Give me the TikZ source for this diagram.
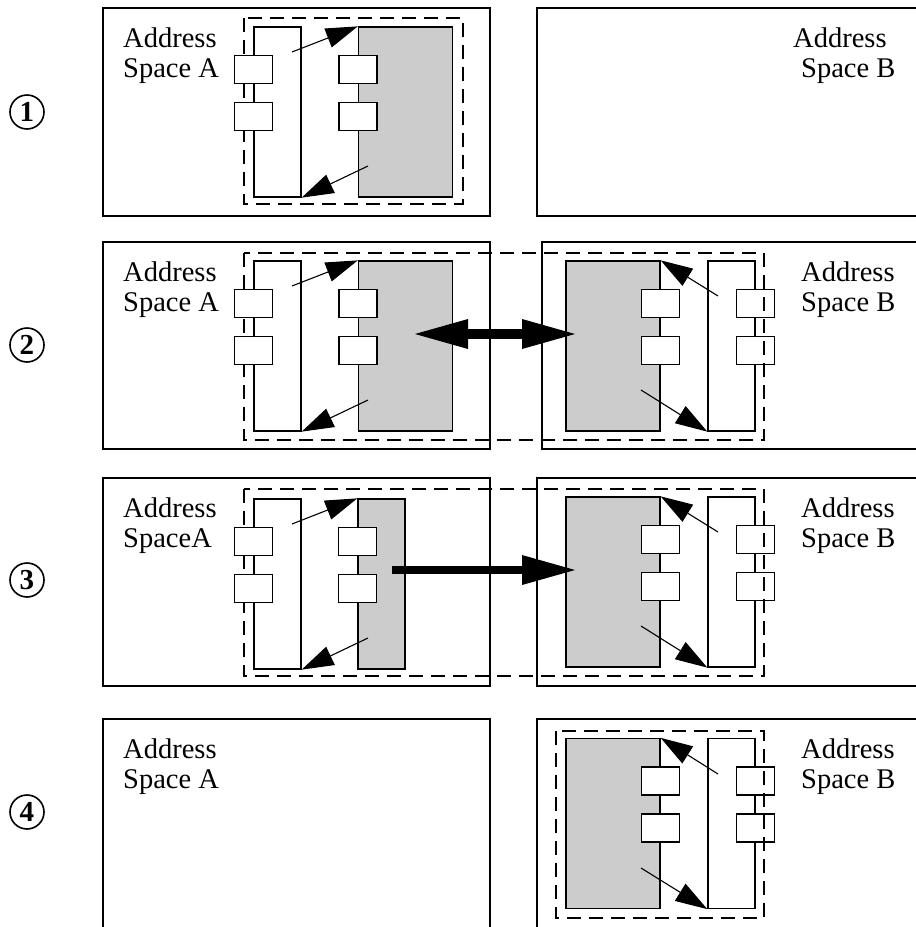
\documentclass[tikz,border=0pt]{standalone}
\usepackage{fontspec}
\setmainfont{Liberation Serif}
\usetikzlibrary{arrows.meta, positioning}

\begin{document}
\begin{tikzpicture}[x=1pt, y=-1pt,
		space/.style={draw, line width=1.3pt},
		unitbox/.style={draw, line width=1.3pt, dash pattern=on 14pt off 8pt},
		client/.style={draw, line width=1.3pt, fill=white, minimum width=47pt, minimum height=170pt, inner sep=0},
		object/.style={draw, line width=1.3pt, fill=gray!40, minimum width=94pt, minimum height=170pt, inner sep=0},
		port/.style={draw, line width=1.3pt, fill=white, minimum width=38pt, minimum height=28pt, inner sep=0},
		spacetext/.style={anchor=north west, align=left, inner sep=0, font=\fontsize{28.5}{30}\selectfont},
		num/.style={draw, circle, line width=1.6pt, minimum size=34pt, inner sep=0, font=\fontsize{29}{29}\selectfont\bfseries},
		ref/.style={-{Triangle[length=32pt, width=20pt]}, line width=1.1pt},
		transfer/.style={line width=10pt, -{Triangle[length=53pt, width=30pt, line width=0pt]}}
		]
		\useasboundingbox (0,0) rectangle (916,927);
		\clip (0,0) rectangle (916,927);
		
		% Step 1
		\node[num] (n1) at (27,112) {1};
		\draw[space] (103,8) rectangle (490,216);
		\draw[space] (537,8) rectangle (925,216);
		\node[spacetext] (tA1) at (123,28) {Address\\Space A};
		\node[spacetext] (tB1) at (793,28) {Address\\\hspace*{8pt}Space B};
		\draw[unitbox] (244,18) rectangle (463,204);
		\node[client] (cA1) at (277.5,112) {};
		\node[object] (oA1) at (405.5,112) {};
		\node[port] at ([yshift=-43pt]cA1.north west) {};
		\node[port] at ([yshift=-90pt]cA1.north west) {};
		\node[port] at ([yshift=-43pt]oA1.north west) {};
		\node[port] at ([yshift=-90pt]oA1.north west) {};
		\coordinate (sA1) at (292,52);
		\coordinate (rA1) at (368,166);
		\draw[ref] (sA1) -- (oA1.north west);
		\draw[ref] (rA1) -- (cA1.south east);
		
		% Step 2
		\node[num] (n2) at (27,345) {2};
		\draw[space] (103,242) rectangle (490,449);
		\draw[space] (542,242) rectangle (925,449);
		\node[spacetext] (tA2) at (123,262) {Address\\Space A};
		\node[spacetext] (tB2) at (801,262) {Address\\Space B};
		\node[client] (cA2) at (277.5,346) {};
		\node[object] (oA2) at (405.5,346) {};
		\node[object] (oB2) at (613,346) {};
		\node[client] (cB2) at (731.5,346) {};
		\node[port] at ([yshift=-43pt]oB2.north east) {};
		\node[port] at ([yshift=-90pt]oB2.north east) {};
		\node[port] at ([yshift=-43pt]cB2.north east) {};
		\node[port] at ([yshift=-90pt]cB2.north east) {};
		\draw[unitbox] (244,253) rectangle (764,440);
		\node[port] at ([yshift=-43pt]cA2.north west) {};
		\node[port] at ([yshift=-90pt]cA2.north west) {};
		\node[port] at ([yshift=-43pt]oA2.north west) {};
		\node[port] at ([yshift=-90pt]oA2.north west) {};
		\coordinate (sA2) at (292,286);
		\coordinate (rA2) at (368,400);
		\coordinate (sB2) at (718,296);
		\coordinate (rB2) at (641,390);
		\draw[ref] (sA2) -- (oA2.north west);
		\draw[ref] (rA2) -- (cA2.south east);
		\draw[ref] (sB2) -- (oB2.north east);
		\draw[ref] (rB2) -- (cB2.south west);
		\coordinate (xA2) at (415,334);
		\coordinate (xB2) at (575,334);
		\draw[transfer, {Triangle[length=53pt, width=30pt, line width=0pt]}-{Triangle[length=53pt, width=30pt, line width=0pt]}] (xA2) -- (xB2);
		
		% Step 3
		\node[num] (n3) at (27,580) {3};
		\draw[space] (103,478) rectangle (490,686);
		\draw[space] (537,478) rectangle (925,686);
		\node[spacetext] (tA3) at (123,498) {Address\\SpaceA};
		\node[spacetext] (tB3) at (801,498) {Address\\Space B};
		\node[client] (cA3) at (277.5,584) {};
		\node[object, minimum width=47pt] (oA3) at (381.5,584) {};
		\node[object] (oB3) at (613,582) {};
		\node[client] (cB3) at (731.5,582) {};
		\node[port] at ([yshift=-43pt]oB3.north east) {};
		\node[port] at ([yshift=-90pt]oB3.north east) {};
		\node[port] at ([yshift=-43pt]cB3.north east) {};
		\node[port] at ([yshift=-90pt]cB3.north east) {};
		\draw[unitbox] (244,489) rectangle (764,676);
		\node[port] at ([yshift=-43pt]cA3.north west) {};
		\node[port] at ([yshift=-90pt]cA3.north west) {};
		\node[port] at ([yshift=-43pt]oA3.north west) {};
		\node[port] at ([yshift=-90pt]oA3.north west) {};
		\coordinate (sA3) at (292,524);
		\coordinate (rA3) at (368,638);
		\coordinate (sB3) at (718,532);
		\coordinate (rB3) at (641,626);
		\draw[ref] (sA3) -- (oA3.north west);
		\draw[ref] (rA3) -- (cA3.south east);
		\draw[ref] (sB3) -- (oB3.north east);
		\draw[ref] (rB3) -- (cB3.south west);
		\coordinate (xA3) at (392,570);
		\coordinate (xB3) at (575,570);
		\draw[transfer, line width=8pt] (xA3) -- (xB3);
		
		% Step 4
		\node[num] (n4) at (27,812) {4};
		\draw[space] (103,719) rectangle (490,935);
		\draw[space] (537,719) rectangle (925,935);
		\node[spacetext] (tA4) at (123,739) {Address\\Space A};
		\node[spacetext] (tB4) at (801,739) {Address\\Space B};
		\node[object] (oB4) at (613,823.5) {};
		\node[client] (cB4) at (731.5,823.5) {};
		\node[port] at ([yshift=-43pt]oB4.north east) {};
		\node[port] at ([yshift=-90pt]oB4.north east) {};
		\node[port] at ([yshift=-43pt]cB4.north east) {};
		\node[port] at ([yshift=-90pt]cB4.north east) {};
		\draw[unitbox] (556,731) rectangle (764,918);
		\coordinate (sB4) at (718,774);
		\coordinate (rB4) at (641,868);
		\draw[ref] (sB4) -- (oB4.north east);
		\draw[ref] (rB4) -- (cB4.south west);
	\end{tikzpicture}
\end{document}
